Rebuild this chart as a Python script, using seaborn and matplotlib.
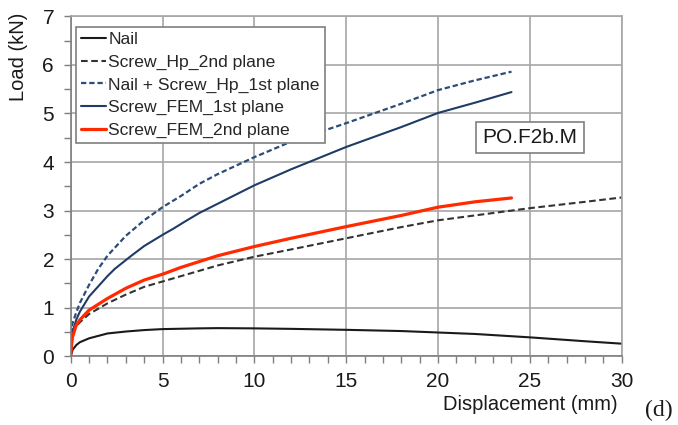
import numpy as np
import pandas as pd
import matplotlib
matplotlib.use("Agg")
import matplotlib.pyplot as plt
import seaborn as sns
from matplotlib.ticker import MultipleLocator

# ---- data ----
nail_x = [0, 0.1, 0.3, 0.5, 1, 2, 3, 4, 5, 7, 8, 10, 12, 15, 18, 20, 22, 25, 28, 30]
nail_y = [0.0, 0.13, 0.23, 0.29, 0.37, 0.47, 0.51, 0.54, 0.56, 0.575, 0.58, 0.575, 0.565,
          0.545, 0.52, 0.49, 0.46, 0.39, 0.31, 0.26]

hp2_x = [0, 0.1, 0.3, 0.5, 1, 2, 3, 4, 5, 6, 8, 10, 12, 15, 18, 20, 22, 25, 28, 30]
hp2_y = [0.5, 0.55, 0.62, 0.7, 0.87, 1.09, 1.27, 1.43, 1.54, 1.65, 1.87, 2.05, 2.2, 2.43,
         2.66, 2.8, 2.9, 3.05, 3.18, 3.27]

hp1_x = [0, 0.1, 0.3, 0.5, 1, 1.5, 2, 3, 4, 5, 6, 7, 8, 10, 12, 15, 18, 20, 22, 24]
hp1_y = [0.45, 0.68, 0.9, 1.1, 1.47, 1.8, 2.07, 2.48, 2.8, 3.07, 3.3, 3.55, 3.75, 4.1,
         4.42, 4.8, 5.2, 5.48, 5.68, 5.86]

fem1_x = [0, 0.1, 0.3, 0.5, 1, 2, 2.4, 3.3, 4, 5, 5.6, 6.2, 7, 8, 10, 12, 15, 18, 20, 22, 24]
fem1_y = [0.3, 0.5, 0.75, 0.92, 1.23, 1.65, 1.8, 2.07, 2.27, 2.5, 2.63, 2.77, 2.95, 3.14,
          3.52, 3.85, 4.31, 4.72, 5.01, 5.22, 5.44]

fem2_x = [0, 0.05, 0.1, 0.3, 0.5, 1, 2, 3, 4, 5, 6, 7, 8, 10, 12, 15, 18, 20, 22, 24]
fem2_y = [0.0, 0.25, 0.4, 0.64, 0.75, 0.95, 1.19, 1.4, 1.57, 1.69, 1.83, 1.95, 2.07, 2.26,
          2.43, 2.67, 2.9, 3.07, 3.18, 3.26]

labels = ["Nail", "Screw_Hp_2nd plane", "Nail + Screw_Hp_1st plane",
          "Screw_FEM_1st plane", "Screw_FEM_2nd plane"]
x_ticks = [0, 5, 10, 15, 20, 25, 30]
y_ticks = [0, 1, 2, 3, 4, 5, 6, 7]

series = [(nail_x, nail_y), (hp2_x, hp2_y), (hp1_x, hp1_y), (fem1_x, fem1_y), (fem2_x, fem2_y)]
frames = []
for lab, (xs, ys) in zip(labels, series):
    frames.append(pd.DataFrame({"x": xs, "y": ys, "series": lab}))
df = pd.concat(frames, ignore_index=True)

# ---- styling ----
sns.set_style("white")
plt.rcParams["font.family"] = ["Liberation Sans", "DejaVu Sans"]

styles = {
    "Nail": dict(color="#1a1a1a", lw=1.5, ls="-"),
    "Screw_Hp_2nd plane": dict(color="#333333", lw=1.5, ls=(0, (3.2, 1.7))),
    "Nail + Screw_Hp_1st plane": dict(color="#2b4d78", lw=1.6, ls=(0, (2.4, 1.3))),
    "Screw_FEM_1st plane": dict(color="#1f3b66", lw=1.5, ls="-"),
    "Screw_FEM_2nd plane": dict(color="#ff2a00", lw=2.3, ls="-"),
}

fig = plt.figure(figsize=(6.78, 4.25), dpi=100)
ax = fig.add_axes([70.7 / 678, 1 - 356.3 / 425, 551 / 678, 340 / 425])

for lab in labels:
    st = styles[lab]
    sns.lineplot(data=df[df["series"] == lab], x="x", y="y", ax=ax, color=st["color"],
                 linewidth=st["lw"], linestyle=st["ls"], label=lab, sort=False,
                 estimator=None)

ax.set_xlim(0, 30)
ax.set_ylim(0, 7)
ax.set_xticks(x_ticks)
ax.set_yticks(y_ticks)
ax.xaxis.set_minor_locator(MultipleLocator(1))
ax.yaxis.set_minor_locator(MultipleLocator(0.5))
ax.grid(True, which="major", color="#a6a6a6", linewidth=1.2)
ax.set_axisbelow(True)
for s in ["top", "right"]:
    ax.spines[s].set_color("#a6a6a6")
    ax.spines[s].set_linewidth(1.2)
for s in ["left", "bottom"]:
    ax.spines[s].set_color("#7f7f7f")
    ax.spines[s].set_linewidth(1.2)
ax.tick_params(which="both", direction="out", length=5, width=1.0, color="#7f7f7f",
               labelsize=15, bottom=True, left=True, colors="#7f7f7f", labelcolor="#1a1a1a")
ax.tick_params(axis="x", pad=6)
ax.tick_params(axis="y", pad=7)

ax.set_xlabel("Displacement (mm)", fontsize=14.5, loc="right", color="#1a1a1a")
ax.xaxis.set_label_coords(0.993, -0.115)
ax.set_ylabel("Load (kN)", fontsize=14.5, loc="top", color="#1a1a1a")
ax.yaxis.set_label_coords(-0.078, 1.01)

leg = ax.legend(loc="upper left", bbox_to_anchor=(0.0, 0.985), fontsize=12.6,
                frameon=True, fancybox=False, framealpha=1, edgecolor="#7f7f7f",
                handlelength=1.4, handletextpad=0.15, labelspacing=0.42,
                borderpad=0.3, borderaxespad=0.3)
leg.get_frame().set_linewidth(1.2)

ax.text(25, 4.5, "PO.F2b.M", fontsize=15, ha="center", va="center", color="#1a1a1a",
        bbox=dict(boxstyle="square,pad=0.3", facecolor="white", edgecolor="#7f7f7f",
                  linewidth=1.2))

fig.text(645 / 678, 1 - 410 / 425, "(d)", fontsize=17, family="Liberation Serif",
         ha="left", va="center", color="#1a1a1a")

fig.savefig("out.png", dpi=100)
